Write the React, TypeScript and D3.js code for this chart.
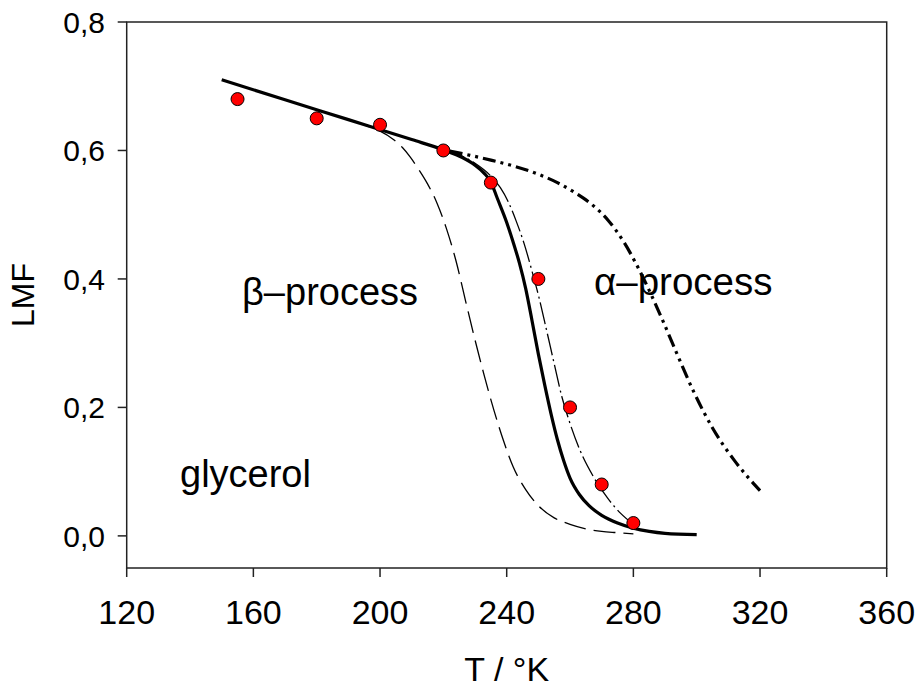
import React from "react";
import * as d3 from "d3";

const W = 917;
const H = 687;

const xTicks = [120, 160, 200, 240, 280, 320, 360];
const yTicks = [0, 0.2, 0.4, 0.6, 0.8];
const yTickLabels = ["0,0", "0,2", "0,4", "0,6", "0,8"];

// measured data (red circles)
const dataT = [155, 180, 200, 220, 235, 250, 260, 270, 280];
const dataLMF = [0.68, 0.65, 0.64, 0.6, 0.55, 0.4, 0.2, 0.08, 0.02];

// solid thick curve
const solidT = [150, 170, 190, 210, 220, 226, 230, 233, 235, 237, 240, 242, 244, 246, 248, 250, 252, 254, 256, 258, 260, 263, 266, 270, 275, 280, 285, 290, 300];
const solidY = [0.71, 0.679, 0.648, 0.617, 0.601, 0.589, 0.577, 0.564, 0.551, 0.526, 0.488, 0.458, 0.425, 0.385, 0.335, 0.283, 0.235, 0.19, 0.15, 0.117, 0.09, 0.064, 0.047, 0.032, 0.02, 0.012, 0.007, 0.004, 0.002];

// long-dash thin curve (beta)
const dashT = [190, 196, 200, 204, 207, 209.5, 212, 215, 218, 221, 224, 227, 230, 233, 236, 239, 242, 246, 250, 255, 260, 265, 270, 275, 280];
const dashY = [0.648, 0.638, 0.63, 0.618, 0.605, 0.59, 0.572, 0.548, 0.518, 0.478, 0.428, 0.366, 0.305, 0.248, 0.195, 0.148, 0.108, 0.072, 0.047, 0.028, 0.018, 0.011, 0.007, 0.005, 0.003];

// dash-dot thin curve
const dashDotT = [220, 225, 230, 235, 238, 240.5, 243, 245.5, 248, 250, 252.6, 255, 257.4, 260, 263, 267.4, 272, 276, 280];
const dashDotY = [0.601, 0.593, 0.58, 0.56, 0.542, 0.52, 0.49, 0.455, 0.412, 0.375, 0.32, 0.268, 0.217, 0.175, 0.135, 0.092, 0.058, 0.035, 0.018];

// dash-dot-dot thick curve (alpha)
const alphaT = [222, 227, 235, 242, 250, 256, 262, 267, 272, 277, 281, 285, 289, 293.6, 299, 305, 312, 320];
const alphaY = [0.599, 0.594, 0.585, 0.576, 0.563, 0.55, 0.533, 0.5155, 0.4915, 0.4575, 0.4223, 0.3823, 0.3383, 0.2854, 0.2249, 0.1679, 0.1168, 0.0704];

const FONT = "'Liberation Sans', Arial, sans-serif";

export default function App() {
  const left = 126.7, right = 886.7, top = 22, bottom = 568;
  const x = d3.scaleLinear().domain([120, 360]).range([left, right]);
  const y = d3.scaleLinear().domain([-0.05, 0.8]).range([bottom, top]);

  const line = d3
    .line<[number, number]>()
    .x((d) => x(d[0]))
    .y((d) => y(d[1]))
    .curve(d3.curveMonotoneX);

  const zip = (a: number[], b: number[]) => a.map((v, i) => [v, b[i]] as [number, number]);

  const axisColor = "#222";

  return (
    <svg width={W} height={H} style={{ position: "absolute", left: 0, top: 0, background: "#fff" }}>
      <rect x={0} y={0} width={W} height={H} fill="#fff" />
      {/* curves */}
      <path d={line(zip(dashT, dashY)) || ""} fill="none" stroke="#000" strokeWidth={1.3} strokeDasharray="22,8" />
      <path d={line(zip(dashDotT, dashDotY)) || ""} fill="none" stroke="#000" strokeWidth={1.3} strokeDasharray="22,4,2,4" />
      <path d={line(zip(alphaT, alphaY)) || ""} fill="none" stroke="#000" strokeWidth={3.2} strokeDasharray="13,5,3,5,3,5" />
      <path d={line(zip(solidT, solidY)) || ""} fill="none" stroke="#000" strokeWidth={3.2} />
      {/* data points */}
      {dataT.map((t, i) => (
        <circle key={i} cx={x(t)} cy={y(dataLMF[i])} r={6.5} fill="#ff0000" stroke="#000" strokeWidth={1} />
      ))}
      {/* frame */}
      <rect x={left} y={top} width={right - left} height={bottom - top} fill="none" stroke={axisColor} strokeWidth={1.5} />
      {/* x ticks */}
      {xTicks.map((t) => (
        <g key={t}>
          <line x1={x(t)} x2={x(t)} y1={bottom} y2={bottom + 9} stroke={axisColor} strokeWidth={1.5} />
          <text x={x(t)} y={624} textAnchor="middle" fontFamily={FONT} fontSize={34} fill="#000">
            {t}
          </text>
        </g>
      ))}
      {/* y ticks */}
      {yTicks.map((v, i) => (
        <g key={v}>
          <line x1={left - 9} x2={left} y1={y(v)} y2={y(v)} stroke={axisColor} strokeWidth={1.5} />
          <text x={105} y={y(v) + 11} textAnchor="end" fontFamily={FONT} fontSize={30} fill="#000">
            {yTickLabels[i]}
          </text>
        </g>
      ))}
      {/* axis titles */}
      <text x={(left + right) / 2} y={681} textAnchor="middle" fontFamily={FONT} fontSize={34} fill="#000">
        T / °K
      </text>
      <text
        transform={`translate(33.5,${(top + bottom) / 2}) rotate(-90)`}
        textAnchor="middle"
        fontFamily={FONT}
        fontSize={32}
        fill="#000"
      >
        LMF
      </text>
      {/* annotations */}
      <text x={242} y={305} fontFamily={FONT} fontSize={38} fill="#000">
        β–process
      </text>
      <text x={594} y={295} fontFamily={FONT} fontSize={38.5} fill="#000">
        α–process
      </text>
      <text x={180} y={487} fontFamily={FONT} fontSize={38} fill="#000">
        glycerol
      </text>
    </svg>
  );
}
